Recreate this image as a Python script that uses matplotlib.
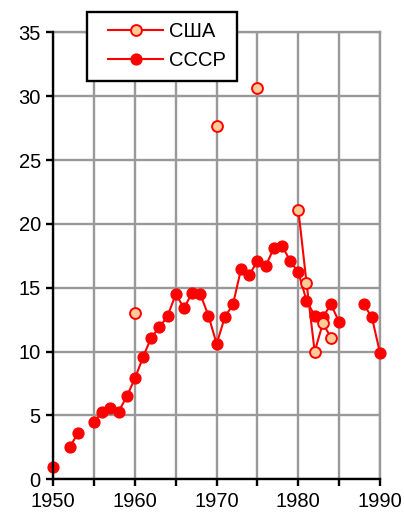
import matplotlib.pyplot as plt
import pandas as pd
import numpy as np
from matplotlib.patches import Rectangle

plt.rcParams['font.family'] = ['Liberation Sans', 'DejaVu Sans']

# Данные (годы без значений пропущены -> разрывы линии)
usa_years = [1960, 1970, 1975, 1980, 1981, 1982, 1983, 1984]
usa_values = [13.0, 27.7, 30.6, 21.1, 15.4, 10.0, 12.2, 11.1]

ussr_years = [1950, 1952, 1953, 1955, 1956, 1957, 1958, 1959, 1960, 1961,
              1962, 1963, 1964, 1965, 1966, 1967, 1968, 1969, 1970, 1971,
              1972, 1973, 1974, 1975, 1976, 1977, 1978, 1979, 1980, 1981,
              1982, 1983, 1984, 1985, 1988, 1989, 1990]
ussr_values = [1.0, 2.5, 3.6, 4.5, 5.3, 5.6, 5.3, 6.5, 7.9, 9.6,
               11.1, 11.9, 12.8, 14.5, 13.4, 14.6, 14.5, 12.8, 10.6, 12.7,
               13.7, 16.5, 16.0, 17.1, 16.7, 18.1, 18.3, 17.1, 16.2, 14.0,
               12.8, 12.7, 13.7, 12.3, 13.7, 12.7, 9.9]

all_years = range(1950, 1991)
usa = pd.Series(usa_values, index=usa_years).reindex(all_years)
ussr = pd.Series(ussr_values, index=ussr_years).reindex(all_years)

W, H = 404, 513
fig = plt.figure(figsize=(W / 100, H / 100), dpi=100)
ax = fig.add_axes([53.3 / W, 1 - 479.3 / H, (380 - 53.3) / W, (479.3 - 32.3) / H])

grid_col = '#999999'
ax.plot(usa.index, usa.values, color='red', lw=1.5, marker='o', ms=7.8,
        mfc='#FFCC99', mec='red', mew=1.4, label='США', zorder=4, clip_on=False)
ax.plot(ussr.index, ussr.values, color='red', lw=1.5, marker='o', ms=7.8,
        mfc='red', mec='red', label='СССР', zorder=3, clip_on=False)

ax.set_xlim(1950, 1990)
ax.set_ylim(0, 35)
ax.set_xticks(range(1950, 1991, 5))
ax.set_xticklabels([str(y) if y % 10 == 0 else '' for y in range(1950, 1991, 5)])
ax.set_yticks(range(0, 36, 5))
ax.grid(True, color=grid_col, lw=1.7)
ax.set_axisbelow(True)

for s in ['top', 'right']:
    ax.spines[s].set_color(grid_col)
    ax.spines[s].set_linewidth(1.7)
for s in ['left', 'bottom']:
    ax.spines[s].set_color('black')
    ax.spines[s].set_linewidth(1.7)
    ax.spines[s].set_zorder(5)

ax.tick_params(direction='out', length=5, width=1.7, labelsize=14.5, pad=4)

# легенда: рамка отдельно, сама легенда без рамки
fig.patches.append(Rectangle((87.3 / W, 1 - 81 / H), (236.7 - 87.3) / W, (81 - 11.7) / H,
                             transform=fig.transFigure, fc='white', ec='black', lw=1.7, zorder=10))
leg = fig.legend(loc='upper left', bbox_to_anchor=(98 / W, 1 - 12 / H), frameon=False,
                 fontsize=14.5, borderpad=0, handlelength=2.75, handletextpad=0.3,
                 labelspacing=0.48)
leg.set_zorder(11)

fig.savefig('out.png', dpi=100)
